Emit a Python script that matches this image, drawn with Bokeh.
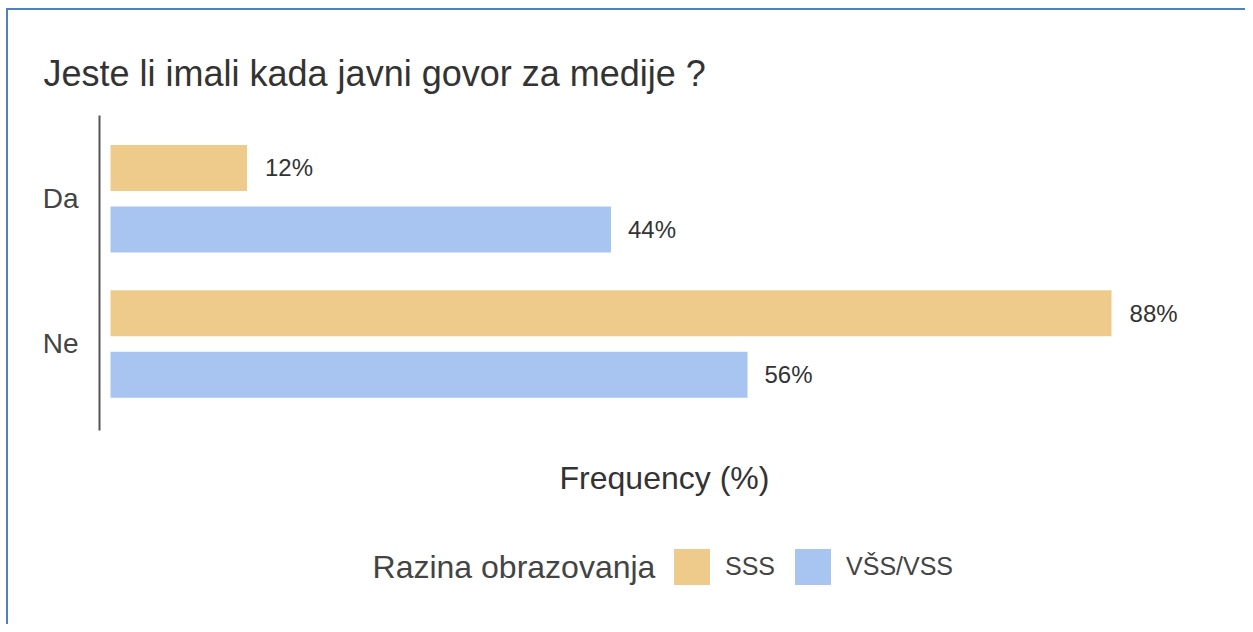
from bokeh.plotting import figure
from bokeh.models import Legend, LegendItem, ColumnDataSource, Range1d, FixedTicker, Label
from bokeh.core.properties import value
from bokeh.transform import dodge
from bokeh.embed import file_html
from bokeh.resources import INLINE

title = "Jeste li imali kada javni govor za medije ?"
categories = ["Da", "Ne"]
series_names = ["SSS", "VŠS/VSS"]
sss_values = [12, 88]
vss_values = [44, 56]
x_label = "Frequency (%)"
legend_title = "Razina obrazovanja"

colors = ["#EFCB8B", "#A7C5F0"]
FONT = "Liberation Sans"

n = len(categories)
cat_y = [n - i - 0.5 for i in range(n)]   # Da on top, Ne below

src = ColumnDataSource(dict(
    y=cat_y,
    sss=sss_values,
    vss=vss_values,
    sss_lbl=[f"{v}%" for v in sss_values],
    vss_lbl=[f"{v}%" for v in vss_values],
))

p = figure(width=1245, height=624, y_range=Range1d(-1.404, 2.073), x_range=Range1d(-0.967, 98.37),
           output_backend="svg", toolbar_location=None,
           min_border_left=99, min_border_top=115, min_border_right=16, min_border_bottom=4)
p.styles = {"background": "linear-gradient(#4F81BD,#4F81BD) 6px 8px / 2px 100% no-repeat, "
                          "linear-gradient(#4F81BD,#4F81BD) 6px 8px / 100% 2px no-repeat, #ffffff"}

p.title.text = title
p.title.text_font = FONT
p.title.text_font_size = "36px"
p.title.text_font_style = "normal"
p.title.text_color = "#333333"
p.title.align = "left"
p.title.offset = -56
p.title.standoff = 44

p.outline_line_color = None
p.xgrid.visible = False
p.ygrid.visible = False
p.background_fill_color = "white"
p.border_fill_alpha = 0

off = 0.2117
bh = 0.3167
r1 = p.hbar(y=dodge("y", off), right="sss", left=0, height=bh,
            source=src, fill_color=colors[0], line_color=None)
r2 = p.hbar(y=dodge("y", -off), right="vss", left=0, height=bh,
            source=src, fill_color=colors[1], line_color=None)

p.text(x="sss", y=dodge("y", off), text="sss_lbl", source=src,
       x_offset=18, text_baseline="middle", text_align="left",
       text_font=value(FONT), text_font_size="24px", text_color="#333333")
p.text(x="vss", y=dodge("y", -off), text="vss_lbl", source=src,
       x_offset=17, text_baseline="middle", text_align="left",
       text_font=value(FONT), text_font_size="24px", text_color="#333333")

# y axis: category labels, line limited to the bar area
ya = p.yaxis[0]
ya.ticker = FixedTicker(ticks=cat_y)
ya.major_label_overrides = {y: c for y, c in zip(cat_y, categories)}
ya.bounds = (-0.0955, 2.073)
ya.axis_line_color = "#555555"
ya.axis_line_width = 2
ya.major_tick_line_color = None
ya.minor_tick_line_color = None
ya.major_label_standoff = 15
ya.major_label_text_font = FONT
ya.major_label_text_font_size = "28px"
ya.major_label_text_color = "#444444"

p.xaxis.visible = False

# x axis title
p.add_layout(Label(x=48.7, y=-0.426, text=x_label, text_align="center", text_baseline="middle",
                   text_font=FONT, text_font_size="32px", text_color="#333333"))

# legend
legend = Legend(items=[LegendItem(label=series_names[0], renderers=[r1]),
                       LegendItem(label=series_names[1], renderers=[r2])],
                orientation="horizontal", location=(570, 31))
legend.label_text_font = FONT
legend.label_text_font_size = "25px"
legend.label_text_color = "#444444"
legend.label_standoff = 11
legend.glyph_width = 45
legend.glyph_height = 45
legend.spacing = 15
legend.border_line_color = None
legend.background_fill_alpha = 0
legend.margin = 0
legend.padding = 0
p.add_layout(legend)

p.add_layout(Label(x=47.9, y=-1.039, text=legend_title, text_align="right", text_baseline="middle",
                   text_font=FONT, text_font_size="32px", text_color="#444444"))

open("out.html", "w").write(file_html(p, INLINE))
